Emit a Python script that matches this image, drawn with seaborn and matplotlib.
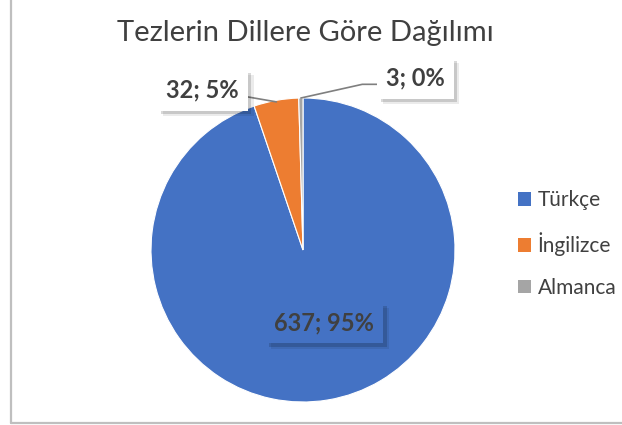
import matplotlib
matplotlib.use("Agg")
import numpy as np
import matplotlib.pyplot as plt
import matplotlib.patheffects as pe
import seaborn as sns
from matplotlib.lines import Line2D

# veriler
languages = ["Türkçe", "İngilizce", "Almanca"]
counts = [637, 32, 3]
colors = ["#4472C4", "#ED7D31", "#A5A5A5"]
title = "Tezlerin Dillere Göre Dağılımı"

sns.set_theme(style="white")
plt.rcParams['font.family'] = ['Lato', 'DejaVu Sans']

fig = plt.figure(figsize=(6.22, 4.25), dpi=100)
W, H = 622, 425
cx, cy, r = 303, 425 - 250, 152
ax = fig.add_axes([(cx - r) / W, (cy - r) / H, 2 * r / W, 2 * r / H])

wedges, _ = ax.pie(counts, colors=colors, startangle=90, counterclock=False,
                   wedgeprops=dict(edgecolor="white", linewidth=0.8))
ax.set_xlim(-1, 1)
ax.set_ylim(-1, 1)
ax.set_aspect("equal")
ax.axis("off")

total = sum(counts)
labels = [f"{c}; {round(100 * c / total)}%" for c in counts]

# etiket konumlari (veri koordinatlari)
label_pos = [(0.14, -0.48), (-0.66, 1.05), (0.74, 1.13)]

# yumusak golge
shadow = [pe.withSimplePatchShadow(offset=(4, -4), shadow_rgbFace="#000000", alpha=0.08),
          pe.withSimplePatchShadow(offset=(2.5, -2.5), shadow_rgbFace="#000000", alpha=0.15)]
for i, (txt, (lx, ly)) in enumerate(zip(labels, label_pos)):
    face = colors[0] if i == 0 else "white"
    t = ax.text(lx, ly, txt, ha="center", va="center", fontsize=17, fontweight="bold",
                color="#404040",
                bbox=dict(boxstyle="square,pad=0.38", fc=face, ec="none"), zorder=5)
    t.get_bbox_patch().set_path_effects(shadow)

# kilavuz cizgileri
w1 = wedges[1]
ang1 = np.deg2rad((w1.theta1 + w1.theta2) / 2)
ax.add_line(Line2D([-0.38, np.cos(ang1) * 0.99], [1.01, np.sin(ang1) * 0.99],
                   color="#7F7F7F", lw=1.2, zorder=4, clip_on=False))
w2 = wedges[2]
ang2 = np.deg2rad((w2.theta1 + w2.theta2) / 2)
ax.add_line(Line2D([np.cos(ang2), 0.39, 0.5], [np.sin(ang2), 1.09, 1.09],
                   color="#7F7F7F", lw=1.2, zorder=4, clip_on=False))

fig.text(305 / W, 1 - 33 / H, title, ha="center", va="center", fontsize=21, color="#404040")

handles = [plt.Rectangle((0, 0), 1, 1, fc=c, ec="none") for c in colors]
fig.legend(handles, languages, loc="center left", bbox_to_anchor=(499 / W, 1 - 244 / H),
           frameon=False, fontsize=15, labelcolor="#404040", handlelength=0.65,
           handleheight=0.65, handletextpad=0.3, labelspacing=1.05)

# cerceve
fig.add_artist(Line2D([11 / W, 11 / W], [2 / H, 1], color="#BFBFBF", lw=1.6,
                      transform=fig.transFigure))
fig.add_artist(Line2D([11 / W, 1], [2 / H, 2 / H], color="#BFBFBF", lw=1.6,
                      transform=fig.transFigure))

fig.savefig("out.png", dpi=100, facecolor="white")
